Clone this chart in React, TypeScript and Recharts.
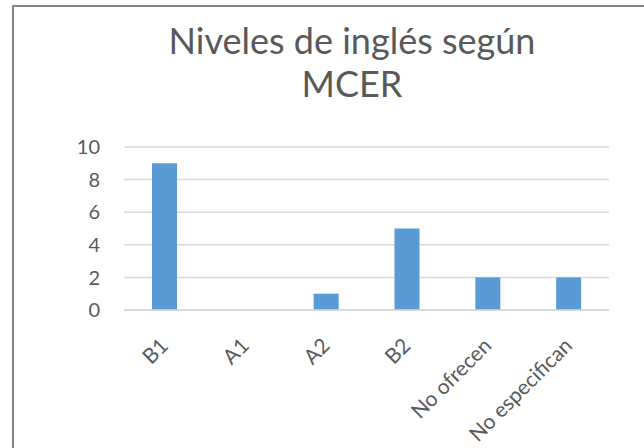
import { BarChart, Bar, XAxis, YAxis, CartesianGrid } from 'recharts'

const categories = ['B1', 'A1', 'A2', 'B2', 'No ofrecen', 'No especifican']
const counts = [9, 0, 1, 5, 2, 2]
const yTicks = [0, 2, 4, 6, 8, 10]

const data = categories.map((name, i) => ({ name, value: counts[i] }))

const FONT = 'Lato, "Open Sans", sans-serif'
const TEXT = '#595959'

function XTick(props: { x: number; y: number; payload: { value: string } }) {
  const { x, y, payload } = props
  const ax = x + 5
  const ay = y + 29
  return (
    <text
      x={ax}
      y={ay}
      textAnchor="end"
      fontSize={21}
      fill={TEXT}
      fontFamily={FONT}
      transform={`rotate(-45, ${ax}, ${ay})`}
    >
      {payload.value}
    </text>
  )
}

export default function App() {
  return (
    <div style={{ position: 'fixed', left: 0, top: 0, width: 644, height: 448, overflow: 'hidden', background: '#fff' }}>
      <div
        style={{
          position: 'absolute',
          left: 12,
          top: 5,
          width: 676,
          height: 460,
          border: '2px solid #858585',
          background: '#fff',
        }}
      >
        <div
          style={{
            position: 'absolute',
            left: 0,
            top: 12,
            width: 676,
            textAlign: 'center',
            fontFamily: FONT,
            fontSize: 36,
            lineHeight: '43px',
            color: TEXT,
          }}
        >
          Niveles de inglés según
          <br />
          MCER
        </div>
        <BarChart
          width={676}
          height={460}
          data={data}
          margin={{ top: 140, right: 81, bottom: 17, left: 0 }}
          barSize={25}
        >
          <CartesianGrid vertical={false} stroke="#d9d9d9" strokeWidth={1.5} />
          <XAxis
            dataKey="name"
            height={140}
            axisLine={{ stroke: '#d9d9d9', strokeWidth: 1.5 }}
            tickLine={false}
            interval={0}
            tick={XTick}
          />
          <YAxis
            width={110}
            domain={[0, 10]}
            ticks={yTicks}
            axisLine={false}
            tickLine={false}
            tickMargin={18}
            tick={{ fontSize: 20, fill: TEXT, fontFamily: FONT }}
          />
          <Bar dataKey="value" fill="#5b9bd5" isAnimationActive={false} />
        </BarChart>
      </div>
    </div>
  )
}
